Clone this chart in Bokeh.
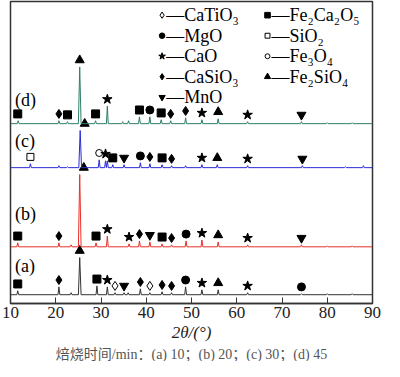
from bokeh.plotting import figure
from bokeh.embed import file_html
from bokeh.resources import INLINE
from bokeh.models import FixedTicker, Title
from bokeh.core.properties import value

# ---------------- data ----------------
x_ticks = [10, 20, 30, 40, 50, 60, 70, 80, 90]
series_names = ["(a)", "(b)", "(c)", "(d)"]
series_colors = ["#333333", "#e8302a", "#2a2ad8", "#2e7d6a"]
baselines = [9, 58, 139, 184]

# peak positions (2theta) and heights above baseline for each series
a_pos = [11.6, 20.7, 23.4, 25.3, 29.1, 31.4, 33.1, 35.1, 36.0, 38.7, 40.8, 43.5, 45.6, 48.7, 52.3, 55.9, 62.4, 74.3, 80.0, 85.5]
a_h   = [4,    8,    2,    38,   9,    8,    2,    2,    2,    6,    2,    3,    2,    8,    5,    5,    2,    1,    1,    1]
b_pos = [11.6, 20.7, 23.4, 25.3, 28.9, 31.4, 36.2, 38.5, 40.8, 43.5, 45.6, 48.8, 52.3, 55.9, 62.4, 74.3, 80.0, 85.5]
b_h   = [4,    4,    2,    74,   4,    11,   3,    6,    5,    3,    2,    6,    7,    5,    2,    2,    1,    1]
c_pos = [14.4, 20.7, 22.6, 25.4, 29.6, 31.0, 31.4, 32.6, 35.1, 38.7, 40.8, 43.5, 45.6, 48.7, 52.3, 55.7, 62.4, 74.5, 84.0, 88.0]
c_h   = [4,    2,    1,    38,   8,    7,    7,    3,    3,    5,    4,    3,    2,    2,    3,    3,    2,    2,    1,    2]
d_pos = [11.7, 20.7, 22.6, 25.3, 28.8, 31.4, 34.8, 36.1, 38.5, 40.8, 43.3, 45.4, 48.7, 52.3, 55.9, 62.4, 74.3, 80.0, 85.5]
d_h   = [3,    3,    2,    58,   3,    18,   2,    3,    7,    7,    4,    3,    6,    4,    5,    2,    2,    1,    1]

# phase markers above peaks: (2theta, phase)
a_marks = [(11.6, "Fe2Ca2O5"), (20.7, "CaSiO3"), (25.3, "Fe2SiO4"), (29.1, "Fe2Ca2O5"), (31.4, "CaO"),
           (33.1, "CaTiO3"), (35.1, "MnO"), (38.7, "CaSiO3"), (40.8, "CaTiO3"), (43.5, "CaSiO3"),
           (45.6, "CaSiO3"), (48.7, "MgO"), (52.3, "CaO"), (55.9, "Fe2SiO4"), (62.4, "CaO"), (74.3, "MgO")]
b_marks = [(11.6, "Fe2Ca2O5"), (20.7, "CaSiO3"), (26.2, "Fe2SiO4"), (28.9, "Fe2Ca2O5"), (31.4, "CaO"),
           (36.2, "CaO"), (38.5, "CaSiO3"), (40.8, "MnO"), (43.5, "Fe2Ca2O5"), (45.6, "CaSiO3"),
           (48.8, "MgO"), (52.3, "CaO"), (55.9, "Fe2SiO4"), (62.4, "CaO"), (74.3, "MnO")]
c_marks = [(14.4, "SiO2"), (26.4, "Fe2SiO4"), (29.6, "Fe3O4"), (31.0, "CaO"), (32.6, "Fe2Ca2O5"),
           (35.1, "MnO"), (38.7, "MgO"), (40.8, "CaSiO3"), (43.5, "Fe2Ca2O5"), (45.6, "CaSiO3"),
           (52.3, "CaO"), (55.7, "Fe2SiO4"), (62.4, "CaO"), (74.5, "MnO")]
d_marks = [(11.6, "Fe2Ca2O5"), (20.7, "CaSiO3"), (22.6, "Fe2Ca2O5"), (25.3, "Fe2SiO4"), (28.8, "Fe2Ca2O5"),
           (31.4, "CaO"), (38.5, "Fe2Ca2O5"), (40.8, "MgO"), (43.3, "Fe2Ca2O5"), (45.4, "CaSiO3"),
           (48.7, "CaSiO3"), (52.3, "CaO"), (55.9, "Fe2SiO4"), (62.4, "CaO"), (74.3, "MnO")]

legend_left = ["CaTiO3", "MgO", "CaO", "CaSiO3", "MnO"]
legend_right = ["Fe2Ca2O5", "SiO2", "Fe3O4", "Fe2SiO4"]
legend_text = {"CaTiO3": "CaTiO₃", "MgO": "MgO", "CaO": "CaO", "CaSiO3": "CaSiO₃", "MnO": "MnO",
               "Fe2Ca2O5": "Fe₂Ca₂O₅", "SiO2": "SiO₂", "Fe3O4": "Fe₃O₄", "Fe2SiO4": "Fe₂SiO₄"}
caption = "焙烧时间/min：(a) 10；(b) 20；(c) 30；(d) 45"

# ---------------- styles ----------------
phase_style = {
    "CaTiO3": ("diamond", False, 9),
    "MgO": ("circle", True, 8),
    "CaO": ("star", True, 10),
    "CaSiO3": ("diamond", True, 9),
    "MnO": ("inverted_triangle", True, 9),
    "Fe2Ca2O5": ("square", True, 8),
    "SiO2": ("square", False, 7),
    "Fe3O4": ("circle", False, 7),
    "Fe2SiO4": ("triangle", True, 9),
}

SERIF = "Liberation Serif"

p = figure(width=384, height=361, x_range=(10, 90), y_range=(0, 309),
           output_backend="svg", toolbar_location=None,
           min_border_left=10, min_border_right=12, min_border_top=1, min_border_bottom=0)
p.grid.visible = False
p.yaxis.visible = False
p.outline_line_color = "#333333"
p.outline_line_width = 1.5
p.background_fill_color = "white"
p.border_fill_color = "white"

xa = p.xaxis[0]
xa.ticker = FixedTicker(ticks=x_ticks)
xa.major_tick_in = 6
xa.major_tick_out = 0
xa.minor_tick_line_color = None
xa.axis_line_color = "#333333"
xa.axis_line_width = 1.5
xa.major_tick_line_color = "#333333"
xa.major_label_text_font = SERIF
xa.major_label_text_font_size = "17px"
xa.major_label_text_color = "#222222"
xa.major_label_standoff = 3
xa.axis_label = "2θ/(°)"
xa.axis_label_text_font = SERIF
xa.axis_label_text_font_size = "17px"
xa.axis_label_text_font_style = "italic"
xa.axis_label_text_color = "#222222"
xa.axis_label_standoff = 2

all_pos = [a_pos, b_pos, c_pos, d_pos]
all_h = [a_h, b_h, c_h, d_h]
all_marks = [a_marks, b_marks, c_marks, d_marks]
label_y = [38, 92, 166, 208]

for pos, hs, base, col, marks, name, ly in zip(all_pos, all_h, baselines, series_colors,
                                                all_marks, series_names, label_y):
    xs, ys = [10], [base]
    for x0, h in sorted(zip(pos, hs)):
        w = 0.3 if h > 30 else 0.2
        xs += [x0 - w, x0, x0 + w]
        ys += [base, base + h, base]
    xs.append(90)
    ys.append(base)
    p.line(xs, ys, line_color=col, line_width=1)

    for mx, ph in marks:
        near = [h for x0, h in zip(pos, hs) if abs(x0 - mx) <= 1.2]
        top = base + (max(near) if near else 0)
        mk, filled, sz = phase_style[ph]
        p.scatter([mx], [top + 7], marker=mk, size=sz,
                  fill_color="black" if filled else "white", line_color="black", line_width=1)

    p.text([11], [ly], text=[name], text_font=value(SERIF), text_font_size="18px",
           text_color="black", text_baseline="middle", text_align="left")

# legend built from phase lists
rows_y = [295, 274, 253, 232, 211]
for col_items, mx in ((legend_left, 43.5), (legend_right, 66.8)):
    for ph, ry in zip(col_items, rows_y):
        mk, filled, sz = phase_style[ph]
        p.scatter([mx], [ry], marker=mk, size=sz * 0.7,
                  fill_color="black" if filled else "white", line_color="black", line_width=1)
        p.text([mx + 0.9], [ry], text=["—" + legend_text[ph]], text_font=value(SERIF),
               text_font_size="18px", text_color="black", text_baseline="middle", text_align="left")

cap = Title(text=caption, align="center", text_font="Liberation Serif, Noto Sans CJK SC",
            text_font_size="14px", text_font_style="normal", text_color="#555555",
            standoff=0, offset=0)
p.add_layout(cap, "below")

open("out.html", "w").write(file_html(p, INLINE))
